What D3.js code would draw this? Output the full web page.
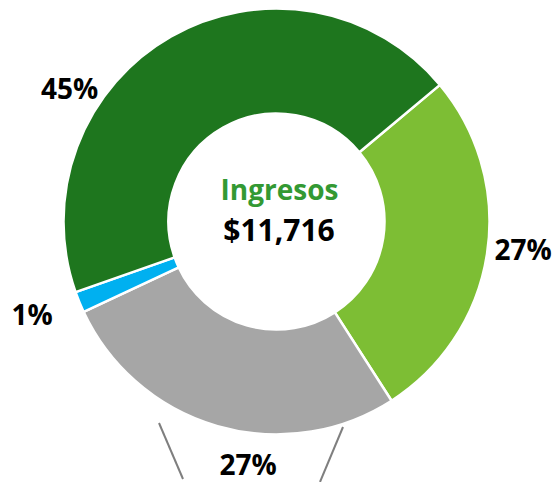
<!DOCTYPE html>
<html>
<head>
<meta charset="utf-8">
<script src="https://cdn.jsdelivr.net/npm/d3@7"></script>
<style>
  html, body { margin: 0; padding: 0; background: #fff; }
  svg { display: block; }
  text { font-family: "Open Sans", "DejaVu Sans", sans-serif; font-weight: 700; }
</style>
</head>
<body>
<svg id="chart" width="556" height="482"></svg>
<script>
// ---- data ----
const categories = ["Segmento A", "Segmento B", "Segmento C", "Segmento D"];
const shares = [27.0, 27.1, 1.6, 44.3];
const shareLabels = ["27%", "27%", "1%", "45%"];
const colors = ["#7DBE34", "#A6A6A6", "#00B0F0", "#1E761E"];
const centerTitle = "Ingresos";
const centerValue = "$11,716";

// ---- layout ----
const W = 556, H = 482;
const cx = 276.5, cy = 221.5;
const outerR = 213, innerR = 108;
const startDeg = 50.1;
// label anchor offsets from centre (x centre, baseline)
const labelOffsets = [[246.5, 38.5], [-28.5, 253.5], [-244.5, 103.5], [-207, -122.5]];

const svg = d3.select("#chart");
const g = svg.append("g").attr("transform", `translate(${cx},${cy})`);

const start = startDeg * Math.PI / 180;
const pie = d3.pie().sort(null).value(d => d)
  .startAngle(start).endAngle(start + 2 * Math.PI);
const arcs = pie(shares);
const arc = d3.arc().innerRadius(innerR).outerRadius(outerR);

g.selectAll("path.slice").data(arcs).join("path")
  .attr("class", "slice")
  .attr("d", arc)
  .attr("fill", (d, i) => colors[i])
  .attr("stroke", "#fff")
  .attr("stroke-width", 2.5)
  .attr("stroke-linejoin", "round");

// inner white hole
g.append("circle").attr("r", innerR).attr("fill", "#fff");

// percent labels
g.selectAll("text.pct").data(arcs).join("text")
  .attr("class", "pct")
  .attr("x", (d, i) => labelOffsets[i][0])
  .attr("y", (d, i) => labelOffsets[i][1])
  .attr("text-anchor", "middle")
  .attr("font-size", 28)
  .attr("fill", "#000")
  .text((d, i) => shareLabels[i]);

// decorative leader lines beside bottom label
g.append("line").attr("x1", 159 - cx).attr("y1", 423 - cy).attr("x2", 183 - cx).attr("y2", 479 - cy)
  .attr("stroke", "#7f7f7f").attr("stroke-width", 2);
g.append("line").attr("x1", 343 - cx).attr("y1", 427 - cy).attr("x2", 320 - cx).attr("y2", 482 - cy)
  .attr("stroke", "#7f7f7f").attr("stroke-width", 2);

// centre text
g.append("text").attr("x", 3).attr("y", 200 - cy).attr("text-anchor", "middle")
  .attr("font-size", 28).attr("fill", "#339933").text(centerTitle);
g.append("text").attr("x", 2.5).attr("y", 240.5 - cy).attr("text-anchor", "middle")
  .attr("font-size", 30).attr("fill", "#000").text(centerValue);
</script>
</body>
</html>
